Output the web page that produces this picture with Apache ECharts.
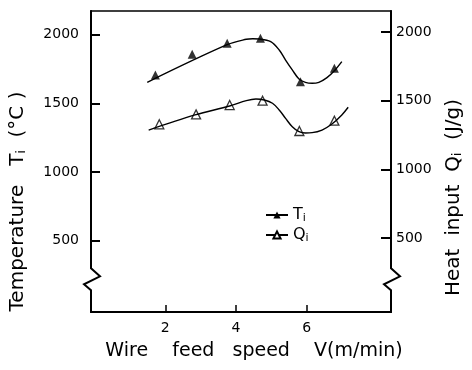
<!DOCTYPE html>
<html>
<head>
<meta charset="utf-8">
<script src="https://cdn.jsdelivr.net/npm/echarts@6/dist/echarts.min.js"></script>
<style>html,body{margin:0;padding:0;background:#fff;}#c{width:472px;height:370px;}</style>
</head>
<body>
<div id="c"></div>
<script>
// Measured markers
const speedTi = [1.72, 2.76, 3.75, 4.69, 5.82, 6.78];
const tempTi  = [1707, 1858, 1938, 1974, 1658, 1756];
const speedQi = [1.83, 2.87, 3.82, 4.75, 5.79, 6.78];
const heatQi  = [1328, 1400, 1468, 1500, 1279, 1354];
// Fitted curves
const curveTiX = [1.49, 3.73, 4.29, 4.47, 4.66, 4.98, 5.22, 5.40, 5.59, 5.78, 5.96, 6.15, 6.34, 6.57, 6.80, 6.99];
const curveTiY = [1654, 1926, 1967, 1971, 1969, 1950, 1889, 1816, 1744, 1678, 1654, 1647, 1654, 1688, 1744, 1804];
const curveQiX = [1.53, 2.84, 3.82, 4.29, 4.56, 4.80, 5.03, 5.22, 5.40, 5.59, 5.78, 5.96, 6.15, 6.43, 6.71, 6.99, 7.17];
const curveQiY = [1286, 1396, 1461, 1500, 1512, 1505, 1481, 1432, 1371, 1310, 1274, 1265, 1267, 1286, 1330, 1396, 1452];
// Ticks
const xTicks = [2, 4, 6];
const yTicks = [500, 1000, 1500, 2000];
const breakValue = 300; // axis break position (left axis units)

const zip = (a, b) => a.map((v, i) => [v, b[i]]);
const FONT = 'DejaVu Sans';
const chart = echarts.init(document.getElementById('c'), null, {renderer: 'canvas'});

const richSub = (size) => ({
  b: {fontFamily: FONT, fontSize: size, color: '#000'},
  s: {fontFamily: FONT, fontSize: 12, color: '#000', verticalAlign: 'bottom', padding: [7, 0, 0, 0]}
});

const yAxisCommon = {
  type: 'value',
  splitLine: {show: false},
  axisLine: {show: true, onZero: false, lineStyle: {color: '#000', width: 2}},
  axisTick: {show: true, inside: true, length: 9, lineStyle: {color: '#000', width: 2}, customValues: yTicks},
  axisLabel: {color: '#000', fontFamily: FONT, fontSize: 14, customValues: yTicks, formatter: v => String(v)},
  nameLocation: 'middle',
  nameRotate: 90
};

chart.setOption({
  animation: false,
  backgroundColor: '#fff',
  grid: {left: 90, right: 79, top: 11, bottom: 58, show: true, borderColor: '#000', borderWidth: 1.5},
  xAxis: {
    type: 'value', min: -0.1, max: 8.38,
    splitLine: {show: false},
    axisLine: {show: true, onZero: false, lineStyle: {color: '#000', width: 2}},
    axisTick: {show: true, inside: true, length: 7, lineStyle: {color: '#000', width: 1.5}, customValues: xTicks},
    axisLabel: {color: '#000', fontFamily: FONT, fontSize: 14, margin: 9, customValues: xTicks, formatter: v => String(v)},
    name: 'Wire    feed   speed    V(m/min)',
    nameLocation: 'middle',
    nameGap: 30,
    nameTextStyle: {color: '#000', fontFamily: FONT, fontSize: 19, padding: [0, 0, 0, 26]}
  },
  yAxis: [
    Object.assign({}, yAxisCommon, {
      position: 'left', min: -18, max: 2173,
      axisLabel: Object.assign({}, yAxisCommon.axisLabel, {margin: 12}),
      name: 'Temperature   {b|T}{s|i}  {b|(°C )}',
      nameGap: 63,
      nameTextStyle: {color: '#000', fontFamily: FONT, fontSize: 20, padding: [0, 80, 0, 0], rich: richSub(20)}
    }),
    Object.assign({}, yAxisCommon, {
      position: 'right', min: -39, max: 2153,
      axisLabel: Object.assign({}, yAxisCommon.axisLabel, {margin: 5}),
      axisTick: Object.assign({}, yAxisCommon.axisTick, {length: 10}),
      name: 'Heat  input  {b|Q}{s|i}  {b|(J/g)}',
      nameGap: 53,
      nameTextStyle: {color: '#000', fontFamily: FONT, fontSize: 20, padding: [0, 72, 0, 0], rich: richSub(20)}
    })
  ],
  legend: {
    show: true, orient: 'vertical', left: 260, top: 201,
    itemWidth: 22, itemHeight: 9, itemGap: 2,
    data: ['Ti', 'Qi'],
    formatter: n => '{b|' + n.charAt(0) + '}{s|' + n.charAt(1) + '}',
    textStyle: {color: '#000', fontFamily: FONT, fontSize: 16, lineHeight: 18,
      rich: {b: {fontFamily: FONT, fontSize: 16, color: '#000', lineHeight: 18}, s: {fontFamily: FONT, fontSize: 11, color: '#000', verticalAlign: 'bottom', lineHeight: 18}}}
  },
  series: [
    {name: 'Ti', type: 'line', yAxisIndex: 0, data: zip(curveTiX, curveTiY), smooth: 0.35,
     symbol: 'triangle', symbolSize: 9, showSymbol: false,
     lineStyle: {color: '#000', width: 1.4}, itemStyle: {color: '#000'}},
    {name: 'Qi', type: 'line', yAxisIndex: 1, data: zip(curveQiX, curveQiY), smooth: 0.35,
     symbol: 'emptyTriangle', symbolSize: 9, showSymbol: false,
     lineStyle: {color: '#000', width: 1.4}, itemStyle: {color: '#000'}},
    {name: 'Ti', type: 'scatter', yAxisIndex: 0, data: zip(speedTi, tempTi),
     symbol: 'triangle', symbolSize: [9, 9], itemStyle: {color: '#000'}},
    {name: 'Qi', type: 'scatter', yAxisIndex: 1, data: zip(speedQi, heatQi),
     symbol: 'triangle', symbolSize: [9, 9], itemStyle: {color: '#fff', borderColor: '#000', borderWidth: 1.3}}
  ]
});

// Axis break zigzags on both vertical axes
const xl = chart.convertToPixel({xAxisIndex: 0}, -0.1);
const xr = chart.convertToPixel({xAxisIndex: 0}, 8.38);
const yb = chart.convertToPixel({yAxisIndex: 0}, breakValue);
function zig(x, y, dir) {
  return [
    {type: 'rect', z: 100, shape: {x: x - 3, y: y - 1, width: 6, height: 24}, style: {fill: '#fff'}},
    {type: 'polyline', z: 101, shape: {points: [[x, y - 2], [x, y], [x + 9 * dir, y + 8], [x - 7 * dir, y + 16], [x, y + 22], [x, y + 24]]},
     style: {stroke: '#000', lineWidth: 2, fill: null}}
  ];
}
chart.setOption({graphic: [].concat(zig(xl, yb, 1), zig(xr, yb, 1))});
</script>
</body>
</html>
